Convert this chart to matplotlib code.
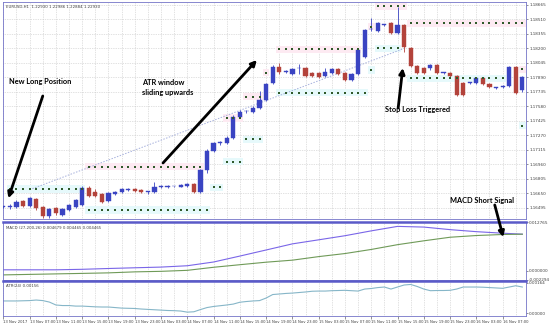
import numpy as np
import matplotlib.pyplot as plt

# EURUSD H1, 80 bars starting 13 Nov 2017 03:00
opens = [1.16509, 1.16509, 1.16509, 1.16570, 1.16520, 1.16591, 1.16502, 1.16412, 1.16492, 1.16420,
         1.16473, 1.16509, 1.16527, 1.16712, 1.16665, 1.16644, 1.16573, 1.16644, 1.16669, 1.16692,
         1.16695, 1.16687, 1.16665, 1.16662, 1.16723, 1.16723, 1.16725, 1.16723, 1.16730, 1.16752,
         1.16662, 1.16901, 1.17104, 1.17190, 1.17187, 1.17247, 1.17471, 1.17527, 1.17524, 1.17567,
         1.17649, 1.17828, 1.18005, 1.17952, 1.17927, 1.17988, 1.17988, 1.17935, 1.17935, 1.17906,
         1.17935, 1.17978, 1.17935, 1.17863, 1.17927, 1.18112, 1.18405, 1.18390, 1.18451, 1.18469,
         1.18369, 1.18451, 1.18209, 1.18013, 1.17988, 1.17988, 1.18024, 1.17938, 1.17935, 1.17906,
         1.17834, 1.17834, 1.17828, 1.17881, 1.17820, 1.17778, 1.17785, 1.17799, 1.18005, 1.17756]
highs = [1.16520, 1.16538, 1.16580, 1.16585, 1.16609, 1.16605, 1.16515, 1.16498, 1.16505, 1.16495,
         1.16540, 1.16595, 1.16730, 1.16725, 1.16698, 1.16660, 1.16665, 1.16680, 1.16710, 1.16710,
         1.16705, 1.16700, 1.16680, 1.16770, 1.16745, 1.16740, 1.16735, 1.16750, 1.16765, 1.16765,
         1.16915, 1.17125, 1.17200, 1.17210, 1.17260, 1.17490, 1.17540, 1.17545, 1.17580, 1.17746,
         1.17835, 1.18020, 1.18045, 1.17965, 1.17990, 1.18034, 1.18000, 1.17945, 1.17945, 1.17992,
         1.17990, 1.17990, 1.17945, 1.17940, 1.18195, 1.18410, 1.18526, 1.18480, 1.18460, 1.18480,
         1.18647, 1.18465, 1.18220, 1.18025, 1.18000, 1.18035, 1.18035, 1.17950, 1.17945, 1.17920,
         1.17845, 1.17845, 1.17895, 1.17895, 1.17830, 1.17790, 1.17810, 1.18015, 1.18015, 1.17910]
lows = [1.16500, 1.16484, 1.16500, 1.16510, 1.16510, 1.16473, 1.16393, 1.16393, 1.16425, 1.16405,
        1.16460, 1.16495, 1.16515, 1.16610, 1.16610, 1.16545, 1.16560, 1.16635, 1.16660, 1.16680,
        1.16665, 1.16650, 1.16640, 1.16650, 1.16705, 1.16710, 1.16715, 1.16715, 1.16720, 1.16650,
        1.16650, 1.16869, 1.17090, 1.17170, 1.17175, 1.17230, 1.17460, 1.17505, 1.17510, 1.17555,
        1.17635, 1.17815, 1.17927, 1.17940, 1.17915, 1.17927, 1.17895, 1.17895, 1.17885, 1.17895,
        1.17925, 1.17915, 1.17850, 1.17847, 1.17915, 1.18098, 1.18390, 1.18380, 1.18440, 1.18355,
        1.18355, 1.18163, 1.18000, 1.17930, 1.17930, 1.17975, 1.17930, 1.17925, 1.17895, 1.17690,
        1.17690, 1.17820, 1.17815, 1.17810, 1.17775, 1.17765, 1.17775, 1.17785, 1.17710, 1.17735]
closes = [1.16512, 1.16509, 1.16562, 1.16520, 1.16598, 1.16492, 1.16409, 1.16484, 1.16439, 1.16484,
          1.16527, 1.16580, 1.16712, 1.16627, 1.16623, 1.16562, 1.16652, 1.16669, 1.16698, 1.16695,
          1.16676, 1.16662, 1.16672, 1.16723, 1.16723, 1.16726, 1.16725, 1.16738, 1.16752, 1.16662,
          1.16901, 1.17104, 1.17187, 1.17190, 1.17247, 1.17471, 1.17524, 1.17527, 1.17567, 1.17649,
          1.17820, 1.18005, 1.17952, 1.17952, 1.17978, 1.17988, 1.17906, 1.17906, 1.17899, 1.17952,
          1.17978, 1.17927, 1.17863, 1.17927, 1.18184, 1.18398, 1.18405, 1.18469, 1.18451, 1.18369,
          1.18451, 1.18219, 1.18013, 1.17941, 1.17941, 1.18024, 1.17941, 1.17938, 1.17906, 1.17703,
          1.17703, 1.17834, 1.17881, 1.17820, 1.17785, 1.17778, 1.17799, 1.18005, 1.17721, 1.17899]

# ATR stop dots: (first bar, last bar, price)
upper_stops = [(13, 30, 1.16937), (34, 36, 1.17457), (37, 39, 1.17685), (40, 40, 1.17943),
               (42, 54, 1.18191), (56, 56, 1.18433), (57, 61, 1.18654), (62, 79, 1.18469),
               (79, 79, 1.17978)]
lower_stops = [(1, 12, 1.16698), (13, 31, 1.16472), (32, 33, 1.16716), (34, 36, 1.16990),
               (37, 39, 1.17229), (42, 55, 1.17727), (56, 56, 1.17970), (57, 60, 1.18202),
               (62, 76, 1.17881), (79, 79, 1.17375)]

trend_bars = [4, 61]
trend_prices = [1.16690, 1.18200]

# MACD sampled every 4 bars (plus last bar)
macd_bars = [0, 4, 8, 12, 16, 20, 24, 28, 32, 36, 40, 44, 48, 52, 56, 60, 64, 68, 72, 76, 79]
macd_main = [0.00027, 0.00027, 0.00027, 0.00040, 0.00061, 0.00080, 0.00098, 0.00133, 0.00231, 0.00386,
             0.00545, 0.00705, 0.00811, 0.00918, 0.01045, 0.01162, 0.01144, 0.01077, 0.01024, 0.00984, 0.00958]
macd_signal = [-0.00106, -0.00093, -0.00080, -0.00067, -0.00053, -0.00027, -0.00013, 0.00013, 0.00093, 0.00160,
               0.00226, 0.00279, 0.00372, 0.00452, 0.00559, 0.00684, 0.00785, 0.00878, 0.00923, 0.00950, 0.00958]

atr = [0.00066, 0.00066, 0.00066, 0.00067, 0.00068, 0.00071, 0.00068, 0.00060, 0.00044, 0.00041,
       0.00041, 0.00038, 0.00038, 0.00036, 0.00034, 0.00033, 0.00033, 0.00030, 0.00027, 0.00026,
       0.00025, 0.00022, 0.00020, 0.00018, 0.00016, 0.00014, 0.00013, 0.00011, 0.00005, 0.00007,
       0.00019, 0.00030, 0.00036, 0.00040, 0.00044, 0.00049, 0.00059, 0.00063, 0.00066, 0.00068,
       0.00082, 0.00101, 0.00104, 0.00107, 0.00109, 0.00112, 0.00115, 0.00119, 0.00120, 0.00120,
       0.00122, 0.00123, 0.00124, 0.00122, 0.00120, 0.00131, 0.00134, 0.00139, 0.00142, 0.00131,
       0.00142, 0.00153, 0.00156, 0.00145, 0.00131, 0.00122, 0.00123, 0.00123, 0.00124, 0.00131,
       0.00142, 0.00142, 0.00142, 0.00141, 0.00139, 0.00137, 0.00135, 0.00142, 0.00149, 0.00142]

price_ticks = [1.18665, 1.18510, 1.18355, 1.18200, 1.18045, 1.17890, 1.17735, 1.17580,
               1.17425, 1.17270, 1.17115, 1.16960, 1.16805, 1.16650, 1.16495]
time_labels = ['13 Nov 2017', '13 Nov 07:00', '13 Nov 11:00', '13 Nov 15:00', '13 Nov 19:00',
               '13 Nov 23:00', '14 Nov 03:00', '14 Nov 07:00', '14 Nov 11:00', '14 Nov 15:00',
               '14 Nov 19:00', '14 Nov 23:00', '15 Nov 03:00', '15 Nov 07:00', '15 Nov 11:00',
               '15 Nov 15:00', '15 Nov 19:00', '15 Nov 23:00', '16 Nov 03:00', '16 Nov 07:00']

BULL = '#3a44c2'
BEAR = '#b3433b'
DOT = '#2f5a2a'
EDGE = '#7474c8'
GRID = '#c4c4c4'
TXT = '#404040'

fig = plt.figure(figsize=(5.5, 3.26), dpi=100)
ax = fig.add_axes([0.0055, 0.3282, 0.9509, 0.6657])
ax_macd = fig.add_axes([0.0055, 0.1423, 0.9509, 0.1767], sharex=ax)
ax_atr = fig.add_axes([0.0055, 0.0307, 0.9509, 0.1074], sharex=ax)

x = np.arange(len(opens))
o, h, l, c = (np.array(v) for v in (opens, highs, lows, closes))
cols = np.where(c >= o, BULL, BEAR)

# light shading behind stop levels
for first, last, price in upper_stops:
    ax.fill_between([first - 0.5, last + 0.5], price - 0.0004, price + 0.0004,
                    color='#fdeaf2', lw=0, zorder=1)
for first, last, price in lower_stops:
    ax.fill_between([first - 0.5, last + 0.5], price - 0.0004, price + 0.0004,
                    color='#e6f9fb', lw=0, zorder=1)

ax.plot(trend_bars, trend_prices, color='#a6b0dc', lw=0.7, ls=(0, (1.5, 1.5)), zorder=2)

ax.vlines(x, l, h, colors=cols, lw=0.6, zorder=3)
ax.bar(x, np.maximum(np.abs(c - o), 0.00006), bottom=np.minimum(o, c), width=0.64,
       color=cols, edgecolor=cols, lw=0.3, zorder=4)

for first, last, price in upper_stops + lower_stops:
    bars = np.arange(first, last + 1)
    ax.scatter(bars, np.full(len(bars), price), marker='s', s=2.4, color=DOT, lw=0, zorder=5)

ax.set_xlim(-0.05, 79.56)
ax.set_ylim(1.16377, 1.18697)
ax.yaxis.tick_right()
ax.set_yticks(price_ticks)
ax.set_yticklabels([f'{p:.5f}' for p in price_ticks])
ax.grid(axis='y', color=GRID, lw=0.5, ls=(0, (1, 1.5)))

# MACD
ax_macd.plot(macd_bars, macd_main, color='#7a66e8', lw=0.8)
ax_macd.plot(macd_bars, macd_signal, color='#6f9a58', lw=0.8)
ax_macd.set_ylim(-0.002294, 0.012765)
ax_macd.yaxis.tick_right()
ax_macd.set_yticks([0.012765, 0.0, -0.002294])
ax_macd.set_yticklabels(['0.012765', '0.000000', '-0.002294'])

# ATR
ax_atr.plot(x, atr, color='#86b6c8', lw=0.8)
ax_atr.set_ylim(-0.00016, 0.00175)
ax_atr.yaxis.tick_right()
ax_atr.set_yticks([0.00164, 0.0])
ax_atr.set_yticklabels(['0.00164', '0.00000'])

for a in (ax, ax_macd, ax_atr):
    a.set_xticks(np.arange(0, 80, 4))
    a.set_xticks(np.arange(0, 80, 2), minor=True)
    a.grid(axis='x', which='both', color=GRID, lw=0.5, ls=(0, (1, 1.5)))
    a.set_axisbelow(True)
    a.tick_params(axis='y', labelsize=3.0, length=1.5, width=0.4, colors=TXT, pad=0.8)
    a.tick_params(axis='x', which='both', bottom=False, labelbottom=False)
    for s in a.spines.values():
        s.set_color(EDGE)
        s.set_linewidth(0.6)

for a in (ax_macd, ax_atr):
    a.spines['top'].set_linewidth(1.8)
    a.spines['top'].set_color('#5a5ac8')

ax_atr.tick_params(axis='x', which='major', bottom=True, labelbottom=True, length=2,
                   width=0.4, colors=TXT, labelsize=2.7, pad=1)
ax_atr.set_xticklabels(time_labels, ha='left')

ax.text(0.005, 0.985, 'EURUSD,H1  1.22930 1.22986 1.22884 1.22930', transform=ax.transAxes,
        fontsize=2.8, color=TXT, va='top')
ax_macd.text(0.005, 0.93, 'MACD (27,200,26) 0.004679 0.004465 0.004465', transform=ax_macd.transAxes,
             fontsize=2.8, color=TXT, va='top')
ax_atr.text(0.005, 0.9, 'ATR(24) 0.00156', transform=ax_atr.transAxes,
            fontsize=2.8, color=TXT, va='top')

# annotations
fnt = dict(family='Lato', weight='bold', fontsize=5.3, color='black')
arw = dict(arrowstyle='-|>', lw=2.0, color='black', mutation_scale=8, shrinkA=0, shrinkB=0)

ax.text(0.87, 1.17842, 'New Long Position', ha='left', va='center', **fnt)
ax.annotate('', xy=(0.76, 1.16598), xytext=(6.0, 1.17692), arrowprops=arw, zorder=8)

ax.text(21.1, 1.17783, 'ATR window\nsliding upwards', ha='left', va='center', linespacing=1.45, **fnt)
ax.annotate('', xy=(38.6, 1.18077), xytext=(24.3, 1.16976), arrowprops=arw, zorder=8)

ax.text(63.1, 1.17553, 'Stop Loss Triggered', ha='center', va='center', zorder=7, **fnt)
ax.annotate('', xy=(60.8, 1.17992), xytext=(60.1, 1.17564), arrowprops=arw, zorder=8)

ax.text(72.9, 1.16580, 'MACD Short Signal', ha='center', va='center', **fnt)
ax_macd.annotate('', xy=(76.1, 0.00880), xytext=(74.8, 1.16527), textcoords=ax.transData,
                 arrowprops=arw, annotation_clip=False, zorder=8)

fig.savefig('out.png', dpi=100)
